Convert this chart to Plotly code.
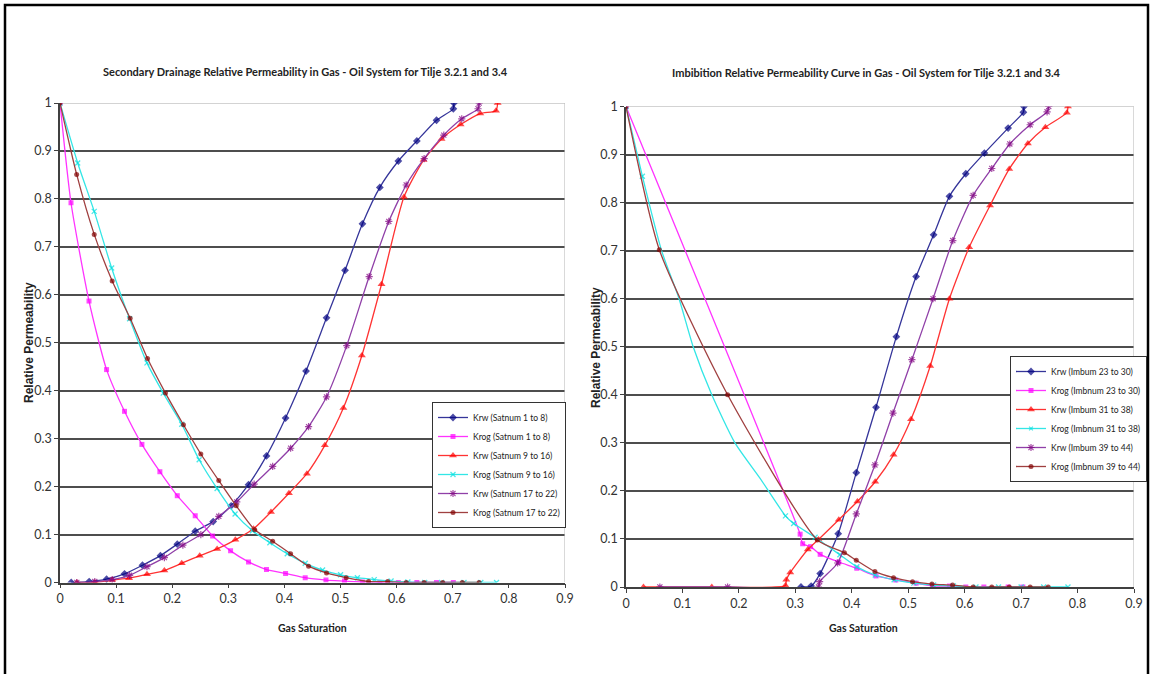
import plotly.graph_objects as go

# ---------------- data: left chart (secondary drainage) ----------------
left_title = "Secondary Drainage Relative Permeability in Gas - Oil System for Tilje 3.2.1 and 3.4"
right_title = "Imbibition Relative Permeability Curve in Gas - Oil System for Tilje 3.2.1 and 3.4"

krw_s1_x = [0.02, 0.052, 0.083, 0.115, 0.147, 0.179, 0.209, 0.241, 0.273, 0.305, 0.336, 0.368, 0.402,
            0.4385, 0.475, 0.508, 0.539, 0.570, 0.603, 0.636, 0.671, 0.701, 0.702]
krw_s1_y = [0, 0.002, 0.007, 0.018, 0.036, 0.056, 0.080, 0.107, 0.127, 0.160, 0.204, 0.264, 0.343,
            0.441, 0.552, 0.651, 0.748, 0.824, 0.879, 0.921, 0.964, 0.988, 1.0]

krog_s1_x = [0, 0.0196, 0.0517, 0.083, 0.115, 0.146, 0.178, 0.209, 0.241, 0.272, 0.304, 0.336, 0.368,
             0.402, 0.437, 0.474, 0.507, 0.539, 0.570, 0.603, 0.636, 0.671, 0.701]
krog_s1_y = [1, 0.792, 0.587, 0.444, 0.357, 0.288, 0.231, 0.181, 0.139, 0.097, 0.066, 0.043, 0.027,
             0.019, 0.010, 0.005, 0.003, 0.001, 0, 0, 0, 0, 0]

krw_s2_x = [0.030, 0.062, 0.093, 0.123, 0.155, 0.186, 0.217, 0.249, 0.280, 0.3125, 0.345, 0.376, 0.408,
            0.440, 0.472, 0.505, 0.538, 0.573, 0.613, 0.648, 0.680, 0.714, 0.749, 0.777, 0.780]
krw_s2_y = [0, 0, 0.005, 0.009, 0.017, 0.025, 0.040, 0.056, 0.070, 0.089, 0.112, 0.147, 0.186,
            0.227, 0.286, 0.364, 0.4735, 0.622, 0.804, 0.881, 0.925, 0.955, 0.978, 0.984, 1.0]

krog_s2_x = [0, 0.0315, 0.061, 0.092, 0.124, 0.155, 0.184, 0.217, 0.248, 0.28, 0.312, 0.343, 0.374,
             0.405, 0.437, 0.468, 0.5, 0.53, 0.56, 0.59, 0.62, 0.65, 0.68, 0.72, 0.75, 0.778]
krog_s2_y = [1, 0.875, 0.774, 0.656, 0.55, 0.458, 0.395, 0.33, 0.256, 0.196, 0.143, 0.108, 0.083,
             0.060, 0.040, 0.026, 0.016, 0.010, 0.006, 0.003, 0.001, 0, 0, 0, 0, 0]

krw_s3_x = [0.030, 0.062, 0.093, 0.124, 0.155, 0.186, 0.219, 0.251, 0.283, 0.315, 0.346, 0.379, 0.411,
            0.443, 0.475, 0.511, 0.551, 0.586, 0.617, 0.649, 0.684, 0.716, 0.745, 0.747]
krw_s3_y = [0, 0.002, 0.006, 0.015, 0.033, 0.052, 0.078, 0.100, 0.138, 0.168, 0.205, 0.242, 0.280,
            0.325, 0.387, 0.494, 0.638, 0.753, 0.829, 0.884, 0.933, 0.967, 0.988, 1.0]

krog_s3_x = [0, 0.0297, 0.061, 0.093, 0.125, 0.156, 0.188, 0.220, 0.251, 0.283, 0.314, 0.347, 0.379,
             0.411, 0.443, 0.475, 0.510, 0.550, 0.584, 0.617, 0.649, 0.682, 0.717, 0.747]
krog_s3_y = [1, 0.851, 0.726, 0.629, 0.551, 0.467, 0.395, 0.329, 0.268, 0.2125, 0.160, 0.110, 0.086,
             0.060, 0.034, 0.020, 0.010, 0.002, 0.002, 0, 0, 0, 0, 0]

# ---------------- data: right chart (imbibition) ----------------
krw_i1_x = [0.310, 0.328, 0.344, 0.376, 0.408, 0.443, 0.479, 0.514, 0.545, 0.573, 0.602, 0.635, 0.677, 0.704, 0.705]
krw_i1_y = [0, 0.002, 0.028, 0.111, 0.238, 0.374, 0.521, 0.646, 0.733, 0.813, 0.860, 0.903, 0.955, 0.988, 1.0]

krog_i1_x = [0, 0.3085, 0.313, 0.327, 0.344, 0.377, 0.409, 0.443, 0.478,
             0.514, 0.543, 0.573, 0.602, 0.634, 0.677, 0.703]
krog_i1_y = [1, 0.11, 0.09, 0.084, 0.068, 0.052, 0.039, 0.023, 0.0146,
             0.008, 0.002, 0.002, 0, 0, 0, 0]

krw_i2_x = [0.031, 0.152, 0.2825, 0.284, 0.291, 0.322, 0.341, 0.377, 0.41, 0.4415, 0.474, 0.505, 0.539,
            0.573, 0.608, 0.645, 0.679, 0.712, 0.743, 0.781, 0.783]
krw_i2_y = [0, 0, 0.003, 0.015, 0.03, 0.078, 0.099, 0.140, 0.178, 0.219, 0.275, 0.349, 0.46,
            0.6, 0.707, 0.794, 0.87, 0.923, 0.957, 0.987, 1.0]

krog_i2_x = [0, 0.029, 0.063, 0.094, 0.119, 0.152, 0.193, 0.2376, 0.2825, 0.297, 0.335, 0.379, 0.409,
             0.4415, 0.475, 0.51, 0.545, 0.58, 0.62, 0.66, 0.7, 0.74, 0.783]
krog_i2_y = [1, 0.855, 0.7, 0.6, 0.5, 0.4, 0.3, 0.226, 0.148, 0.132, 0.1035, 0.067, 0.042,
             0.025, 0.015, 0.008, 0.004, 0.002, 0, 0, 0, 0, 0]

krw_i3_x = [0.06, 0.18, 0.341, 0.343, 0.375, 0.408, 0.441, 0.473, 0.5065, 0.544, 0.579, 0.615, 0.648,
            0.680, 0.716, 0.746, 0.749]
krw_i3_y = [0, 0, 0, 0.011, 0.05, 0.152, 0.254, 0.362, 0.473, 0.600, 0.721, 0.815, 0.871,
            0.922, 0.962, 0.989, 1.0]

krog_i3_x = [0, 0.059, 0.180, 0.339, 0.387, 0.408, 0.441, 0.474, 0.5076, 0.542, 0.5786, 0.615, 0.648,
             0.679, 0.716, 0.748]
krog_i3_y = [1, 0.702, 0.400, 0.098, 0.0715, 0.0556, 0.032, 0.0194, 0.011, 0.006, 0.004, 0, 0,
             0, 0, 0]

left_names = ["Krw (Satnum 1 to 8)", "Krog (Satnum 1 to 8)", "Krw (Satnum 9 to 16)",
              "Krog (Satnum 9 to 16)", "Krw (Satnum 17 to 22)", "Krog (Satnum 17 to 22)"]
right_names = ["Krw (Imbum 23 to 30)", "Krog (Imbnum 23 to 30)", "Krw (Imbum 31 to 38)",
               "Krog (Imbnum 31 to 38)", "Krw (Imbum 39 to 44)", "Krog (Imbnum 39 to 44)"]

# ---------------- styling ----------------
W, H = 1153, 674
NARROW = "Lato, Roboto, sans-serif"
BOLD = "Liberation Sans, Arial, sans-serif"

styles = [
    dict(line="#35359a", mk="#000080", sym="diamond", size=6, lw=0),
    dict(line="#ff33ff", mk="#ff00ff", sym="square", size=5, lw=0),
    dict(line="#ff3333", mk="#ff0000", sym="triangle-up", size=7, lw=0),
    dict(line="#33e6e6", mk="#00e0e0", sym="x-thin", size=5, lw=1.3),
    dict(line="#9040a8", mk="#800080", sym="asterisk", size=6, lw=1.2),
    dict(line="#a04040", mk="#800000", sym="circle", size=5, lw=0),
]

def px_x(p):
    return p / W

def px_y(p):
    return 1 - p / H

fig = go.Figure()

left_series = [(krw_s1_x, krw_s1_y), (krog_s1_x, krog_s1_y), (krw_s2_x, krw_s2_y),
               (krog_s2_x, krog_s2_y), (krw_s3_x, krw_s3_y), (krog_s3_x, krog_s3_y)]
right_series = [(krw_i1_x, krw_i1_y), (krog_i1_x, krog_i1_y), (krw_i2_x, krw_i2_y),
                (krog_i2_x, krog_i2_y), (krw_i3_x, krw_i3_y), (krog_i3_x, krog_i3_y)]

def add_series(series, names, xa, ya, legend, hide=None):
    for i, ((xs, ys), nm, st) in enumerate(zip(series, names, styles)):
        sizes = [st["size"]] * len(xs)
        if hide and i in hide:
            for j in hide[i]:
                sizes[j] = 0
        mk = dict(symbol=st["sym"], size=sizes, color=st["mk"],
                  line=dict(width=st["lw"], color=st["mk"]))
        fig.add_trace(go.Scatter(
            x=xs, y=ys, name=nm, mode="lines+markers",
            line=dict(color=st["line"], width=1.3, shape="spline", smoothing=0.6),
            marker=mk, xaxis=xa, yaxis=ya, legend=legend))

add_series(left_series, left_names, "x", "y", "legend")
add_series(right_series, right_names, "x2", "y2", "legend2",
           hide={3: [2, 3, 4, 5, 6, 7]})

# plot area pixel geometry
L = dict(x0=60, x1=565, y0=582.5, y1=103)
R = dict(x0=626, x1=1134, y0=587, y1=106.5)

axis_common = dict(
    range=[0, 0.9], dtick=0.1, tick0=0, showgrid=False, zeroline=False, automargin=False,
    showline=True, linecolor="#404040", linewidth=1.5,
    ticks="outside", ticklen=4, tickcolor="#404040",
    tickfont=dict(family=NARROW, size=12.5, color="#333333"),
)
yaxis_common = dict(
    range=[0, 1], dtick=0.1, tick0=0, showgrid=True, gridcolor="#4d4d4d", gridwidth=1.5,
    zeroline=False, showline=True, linecolor="#404040", linewidth=1.5, automargin=False,
    ticks="outside", ticklen=4, tickcolor="#404040",
    tickfont=dict(family=NARROW, size=12.5, color="#333333"),
)

legend_common = dict(xanchor="left", yanchor="top",
                     bgcolor="white", bordercolor="#333333", borderwidth=1,
                     font=dict(family=NARROW, size=8.5, color="#222222"),
                     itemwidth=30, tracegroupgap=0)

fig.update_layout(
    width=W, height=H, autosize=False,
    margin=dict(l=0, r=0, t=0, b=0, pad=0),
    paper_bgcolor="white", plot_bgcolor="white",
    xaxis=dict(domain=[px_x(L["x0"]), px_x(L["x1"])], anchor="y", **axis_common),
    yaxis=dict(domain=[px_y(L["y0"]), px_y(L["y1"])], anchor="x", **yaxis_common),
    xaxis2=dict(domain=[px_x(R["x0"]), px_x(R["x1"])], anchor="y2", **axis_common),
    yaxis2=dict(domain=[px_y(R["y0"]), px_y(R["y1"])], anchor="x2", **yaxis_common),
    legend=dict(x=px_x(432), y=px_y(402), **legend_common),
    legend2=dict(x=px_x(1010), y=px_y(356), **legend_common),
    showlegend=True,
)

ann = []
ann.append(dict(text="<b>" + left_title + "</b>", x=px_x(305), y=px_y(71), xref="paper", yref="paper",
                xanchor="center", yanchor="middle",
                showarrow=False, font=dict(family=NARROW, size=11, color="#222222")))
ann.append(dict(text="<b>" + right_title + "</b>", x=px_x(866), y=px_y(72), xref="paper", yref="paper",
                xanchor="center", yanchor="middle",
                showarrow=False, font=dict(family=NARROW, size=11, color="#222222")))
for cx in (312, 863):
    ann.append(dict(text="<b>Gas Saturation</b>", x=px_x(cx), y=px_y(628), xref="paper", yref="paper",
                    xanchor="center", yanchor="middle",
                    showarrow=False, font=dict(family=NARROW, size=10.5, color="#222222")))
for cx, cy in ((29, 343), (596, 348)):
    ann.append(dict(text="<b>Relative Permeability</b>", x=px_x(cx), y=px_y(cy), xref="paper", yref="paper",
                    xanchor="center", yanchor="middle",
                    showarrow=False, textangle=-90, font=dict(family=BOLD, size=12, color="#222222")))
fig.update_layout(annotations=ann)

shapes = []
# light plot-area border (top and right)
for xr, yr in (("x", "y"), ("x2", "y2")):
    shapes.append(dict(type="line", xref=xr, yref=yr, x0=0, x1=0.9, y0=1, y1=1,
                       line=dict(color="white", width=3), layer="between"))
    shapes.append(dict(type="line", xref=xr, yref=yr, x0=0, x1=0.9, y0=1, y1=1,
                       line=dict(color="#a8a8a8", width=1.2), layer="between"))
    shapes.append(dict(type="line", xref=xr, yref=yr, x0=0.9, x1=0.9, y0=0, y1=1,
                       line=dict(color="#c0c0c0", width=1.2), layer="between"))
# outer black frame
shapes.append(dict(type="rect", xref="paper", yref="paper",
                   x0=px_x(5), x1=px_x(1148), y0=px_y(678), y1=px_y(5),
                   line=dict(color="black", width=2.5), fillcolor="rgba(0,0,0,0)", layer="above"))
fig.update_layout(shapes=shapes)

fig.write_html("out.html",
               post_script="document.body.style.margin='0';document.body.style.overflow='hidden';")
